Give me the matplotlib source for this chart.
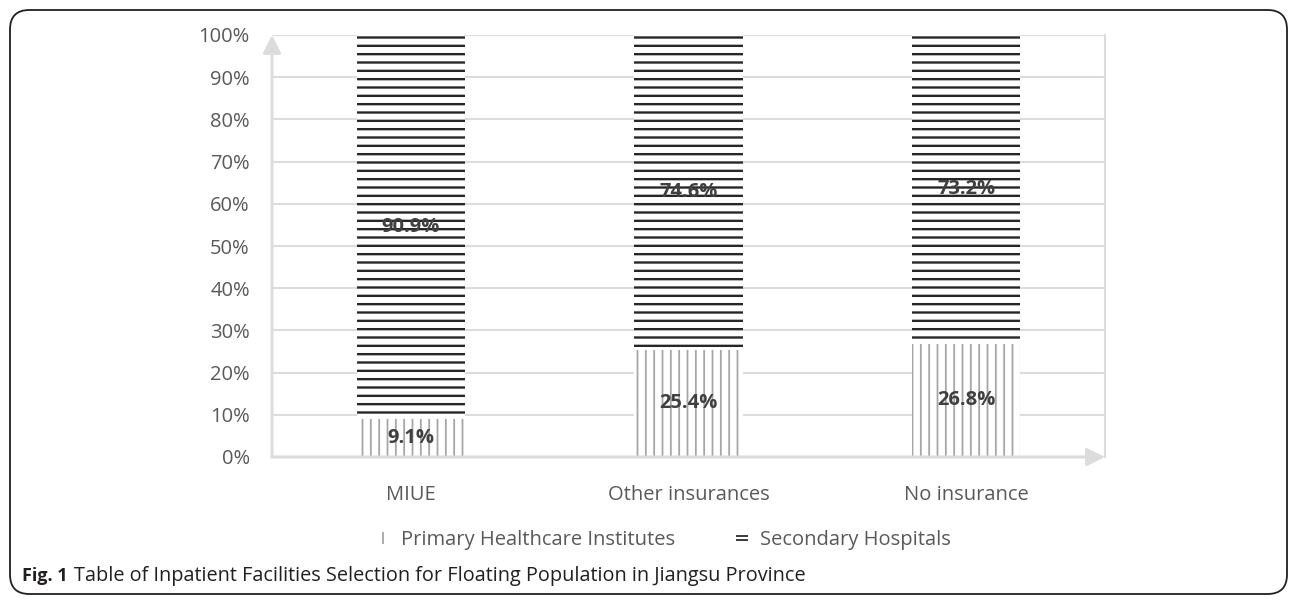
import numpy as np
import matplotlib
matplotlib.use('Agg')
import matplotlib.pyplot as plt
from matplotlib.patches import FancyBboxPatch
from matplotlib.lines import Line2D

plt.rcParams['font.family'] = ['Open Sans', 'DejaVu Sans']

# data
categories = ['MIUE', 'Other insurances', 'No insurance']
primary = [9.1, 25.4, 26.8]
secondary = [90.9, 74.6, 73.2]
series_names = ['Primary Healthcare Institutes', 'Secondary Hospitals']
yticks = [0, 10, 20, 30, 40, 50, 60, 70, 80, 90, 100]

fig = plt.figure(figsize=(12.95, 6.02), dpi=100)
ax = fig.add_axes([272/1295, 1-457/602, (1105-272)/1295, (457-35)/602])

x = np.arange(len(categories))
w = 0.39

plt.rcParams['hatch.linewidth'] = 1.3
b1 = ax.bar(x, primary, w, color='white', edgecolor='#a6a6a6', hatch='||', linewidth=0, zorder=3)
for p in b1:
    if hasattr(p, 'set_hatch_linewidth'):
        p.set_hatch_linewidth(1.3)
plt.rcParams['hatch.linewidth'] = 1.7
b2 = ax.bar(x, secondary, w, bottom=primary, color='white', edgecolor='#262626', hatch='--', linewidth=0, zorder=3)
for p in b2:
    if hasattr(p, 'set_hatch_linewidth'):
        p.set_hatch_linewidth(1.7)

# labels
for i in range(len(categories)):
    ax.text(x[i], primary[i]/2, f'{primary[i]}%', ha='center', va='center',
            fontsize=14.5, fontweight='bold', color='#404040', zorder=5)
    ax.text(x[i], primary[i] + secondary[i]/2, f'{secondary[i]}%', ha='center', va='center',
            fontsize=14.5, fontweight='bold', color='#404040', zorder=5)

ax.set_xlim(-0.5, 2.5)
ax.set_ylim(0, 100)
ax.set_yticks(yticks)
ax.set_yticklabels([f'{v}%' for v in yticks])
ax.set_xticks(x)
ax.set_xticklabels(categories)
ax.tick_params(axis='y', length=0, pad=16, labelsize=14.5, labelcolor='#595959')
ax.tick_params(axis='x', length=0, pad=20, labelsize=14.5, labelcolor='#595959')
ax.yaxis.grid(True, color='#dcdcdc', lw=1.5, zorder=0)
ax.set_axisbelow(True)
for s in ['left', 'bottom', 'top']:
    ax.spines[s].set_visible(False)
ax.spines['right'].set_color('#dcdcdc')
ax.spines['right'].set_linewidth(1.5)

arr = dict(arrowstyle='-|>,head_length=0.4,head_width=0.2', color='#dcdcdc', lw=2.2,
           mutation_scale=27, shrinkA=0, shrinkB=0)
ax.annotate('', xy=(0, 1), xytext=(0, 0), xycoords='axes fraction', arrowprops=arr, annotation_clip=False)
ax.annotate('', xy=(1, 0), xytext=(0, 0), xycoords='axes fraction', arrowprops=arr, annotation_clip=False)

# legend: small glyph-like keys
h1 = Line2D([], [], ls='none', marker='|', markersize=9, markeredgewidth=1.3, color='#a6a6a6')
h2 = Line2D([], [], ls='none', marker='$=$', markersize=9, markeredgewidth=0, color='#404040')
fig.legend([h1, h2], series_names, loc='center', bbox_to_anchor=(664/1295, 1-540/602),
           ncol=2, frameon=False, fontsize=14.5, labelcolor='#595959',
           handlelength=0.6, handletextpad=0.6, columnspacing=3)

# caption
t1 = fig.text(22/1295, 1-576/602, 'Fig. 1', fontsize=13, fontweight='bold', color='#231f20', va='center')
fig.canvas.draw()
bb = t1.get_window_extent()
fig.text((bb.x1 + 6)/1295, 1-576/602,
         'Table of Inpatient Facilities Selection for Floating Population in Jiangsu Province',
         fontsize=14.3, color='#231f20', va='center')

# border
box = FancyBboxPatch((10/1295, 1-594/602), (1287-10)/1295, (594-10)/602,
                     boxstyle='round,pad=0,rounding_size=0.015', transform=fig.transFigure,
                     fill=False, edgecolor='#231f20', lw=1.3, mutation_aspect=1295/602)
fig.patches.append(box)

fig.savefig('out.png', dpi=100)
